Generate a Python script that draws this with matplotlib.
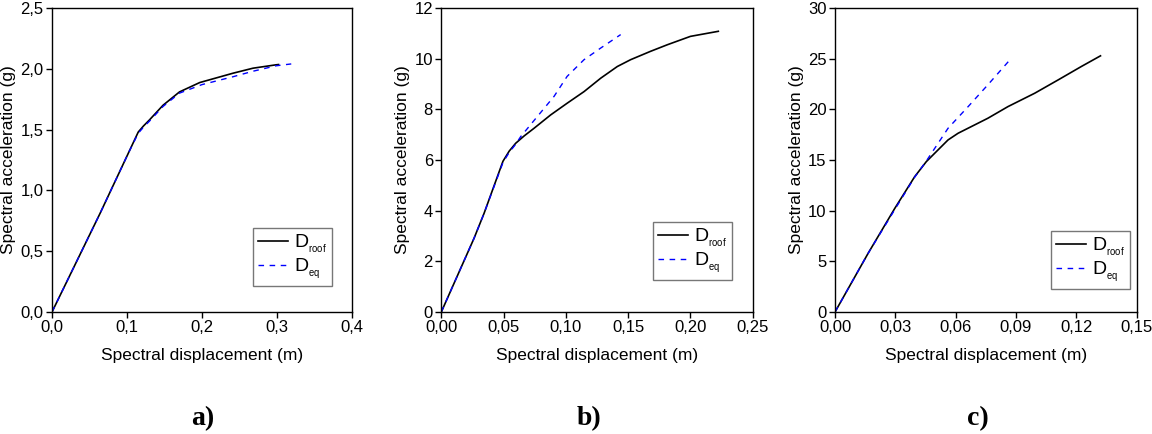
import matplotlib
matplotlib.use("Agg")
import matplotlib.pyplot as plt
from matplotlib.ticker import FuncFormatter

plt.rcParams['font.family'] = ['Liberation Sans', 'DejaVu Sans']
plt.rcParams['mathtext.fontset'] = 'custom'
plt.rcParams['mathtext.rm'] = 'Liberation Sans'

# Panel a
a_roof_x = [0.0, 0.064, 0.1017, 0.115, 0.122, 0.13, 0.148, 0.170, 0.197, 0.2415, 0.268, 0.299, 0.302]
a_roof_y = [0.0, 0.81, 1.305, 1.48, 1.53, 1.58, 1.70, 1.81, 1.887, 1.964, 2.005, 2.033, 2.035]
a_eq_x = [0.0, 0.064, 0.1017, 0.115, 0.122, 0.13, 0.148, 0.170, 0.200, 0.2415, 0.268, 0.299, 0.319]
a_eq_y = [0.0, 0.81, 1.305, 1.47, 1.52, 1.57, 1.69, 1.80, 1.87, 1.935, 1.98, 2.025, 2.04]

# Panel b
b_roof_x = [0.0, 0.0262, 0.0343, 0.0495, 0.0545, 0.0597, 0.0665, 0.0744, 0.0878, 0.101, 0.1146, 0.128, 0.1413, 0.152, 0.168, 0.1815, 0.200, 0.2224]
b_roof_y = [0.0, 2.90, 3.89, 5.95, 6.35, 6.66, 6.95, 7.25, 7.78, 8.24, 8.70, 9.23, 9.69, 9.96, 10.29, 10.55, 10.88, 11.08]
b_eq_x = [0.0, 0.0262, 0.0343, 0.0495, 0.0545, 0.0597, 0.0637, 0.077, 0.0905, 0.101, 0.1146, 0.128, 0.144]
b_eq_y = [0.0, 2.90, 3.89, 5.90, 6.30, 6.62, 6.92, 7.71, 8.51, 9.30, 9.96, 10.42, 10.95]

# Panel c
c_roof_x = [0.0, 0.0164, 0.0297, 0.0396, 0.0454, 0.0512, 0.0562, 0.0612, 0.0694, 0.076, 0.086, 0.0993, 0.111, 0.1225, 0.132]
c_roof_y = [0.0, 5.77, 10.22, 13.35, 14.84, 15.99, 16.98, 17.64, 18.46, 19.12, 20.27, 21.59, 22.91, 24.23, 25.28]
c_eq_x = [0.0, 0.0164, 0.0297, 0.0396, 0.0454, 0.0562, 0.0662, 0.076, 0.0877]
c_eq_y = [0.0, 5.77, 10.1, 13.3, 14.9, 18.13, 20.27, 22.42, 25.05]

panels = [
    dict(rx=a_roof_x, ry=a_roof_y, ex=a_eq_x, ey=a_eq_y, xlim=(0, 0.4), ylim=(0, 2.5),
         xt=[0, 0.1, 0.2, 0.3, 0.4], yt=[0, 0.5, 1.0, 1.5, 2.0, 2.5], xd=1, yd=1,
         pos=[52, 8, 300, 304], leg=(332, 286), lab='a)', labx=203),
    dict(rx=b_roof_x, ry=b_roof_y, ex=b_eq_x, ey=b_eq_y, xlim=(0, 0.25), ylim=(0, 12),
         xt=[0, 0.05, 0.10, 0.15, 0.20, 0.25], yt=[0, 2, 4, 6, 8, 10, 12], xd=2, yd=0,
         pos=[441.3, 8, 311.4, 304], leg=(732, 280), lab='b)', labx=589),
    dict(rx=c_roof_x, ry=c_roof_y, ex=c_eq_x, ey=c_eq_y, xlim=(0, 0.15), ylim=(0, 30),
         xt=[0, 0.03, 0.06, 0.09, 0.12, 0.15], yt=[0, 5, 10, 15, 20, 25, 30], xd=2, yd=0,
         pos=[835, 8, 301.7, 304], leg=(1130, 289), lab='c)', labx=978),
]

W, H = 1152, 434
fig = plt.figure(figsize=(W / 100, H / 100), dpi=100)

def fmt(d):
    return FuncFormatter(lambda v, p: f"{v:.{d}f}".replace('.', ','))

for p in panels:
    l, t, w, h = p['pos']
    ax = fig.add_axes([l / W, (H - t - h) / H, w / W, h / H])
    ax.plot(p['rx'], p['ry'], color='black', lw=1.2, label=r'$\mathregular{D_{_{roof}}}$')
    ax.plot(p['ex'], p['ey'], color='blue', lw=1.0, ls=(0, (4, 4)), label=r'$\mathregular{D_{_{eq}}}$')
    ax.set_xlim(*p['xlim'])
    ax.set_ylim(*p['ylim'])
    ax.set_xticks(p['xt'])
    ax.set_yticks(p['yt'])
    ax.xaxis.set_major_formatter(fmt(p['xd']))
    ax.yaxis.set_major_formatter(fmt(p['yd']))
    ax.tick_params(direction='out', length=4, width=1, labelsize=12, colors='black', pad=2)
    for s in ax.spines.values():
        s.set_linewidth(1.0)
    ax.set_xlabel('Spectral displacement (m)', fontsize=12.5, labelpad=9)
    ax.set_ylabel('Spectral acceleration (g)', fontsize=12.5, labelpad=3)
    rx_, by_ = p['leg']
    leg = ax.legend(loc='lower right',
                    bbox_to_anchor=((rx_ - l) / w, (t + h - by_) / h),
                    fontsize=14, frameon=True, fancybox=False, handlelength=1.55,
                    borderpad=0.25, labelspacing=0.1, handletextpad=0.3, borderaxespad=0)
    leg.get_frame().set_edgecolor('#555555')
    leg.get_frame().set_linewidth(1.0)
    fig.text(p['labx'] / W, (H - 419) / H, p['lab'], ha='center', va='center',
             fontsize=20, fontweight='bold', family=['Liberation Serif', 'DejaVu Serif'])

fig.savefig('out.png', dpi=100)
